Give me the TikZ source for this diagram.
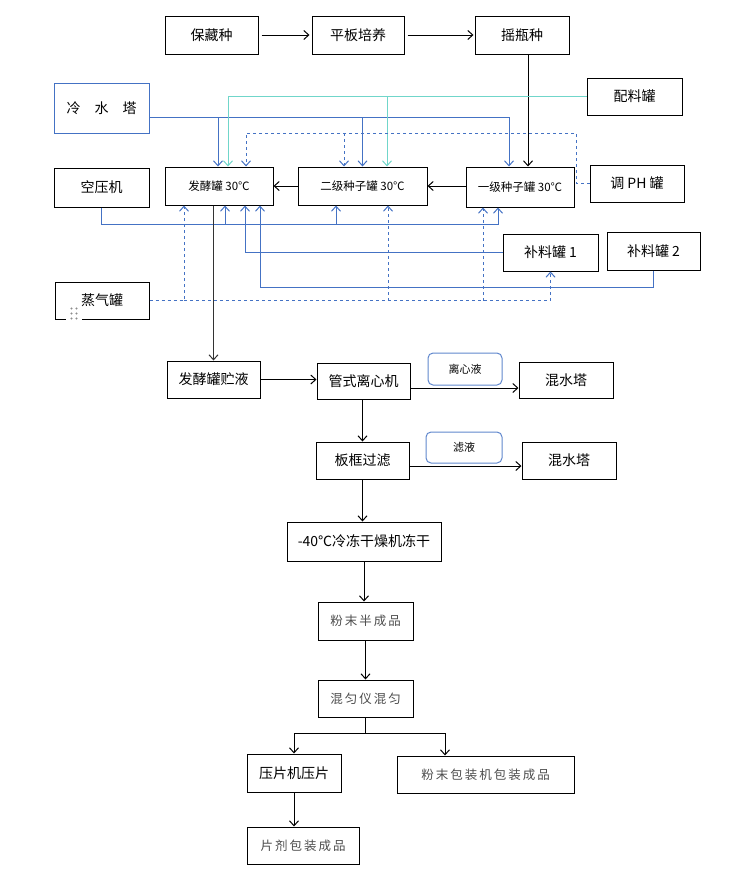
\documentclass[tikz,border=0pt]{standalone}
\usepackage{fontspec}
\setmainfont{Noto Sans CJK SC}
\newfontfamily\widecjk[LetterSpace=16]{Noto Sans CJK SC}
\usetikzlibrary{arrows.meta}
\definecolor{wblue}{RGB}{68,114,196}
\definecolor{wteal}{RGB}{112,214,202}

\begin{document}
\begin{tikzpicture}[x=1pt,y=-1pt,
  >={Straight Barb[length=5pt,width=9pt]},
  wh/.style 2 args={minimum width=#1,minimum height=#2},
  box/.style={draw,line width=1pt,inner sep=0pt,font=\fontsize{14}{16}\selectfont},
  sbox/.style={box,font=\fontsize{11.5}{14}\selectfont},
  gbox/.style={box,text=black!70,font=\widecjk\fontsize{12.5}{14}\selectfont},
  tag/.style={draw=wblue!85,rounded corners=5pt,line width=1pt,inner sep=0pt,font=\fontsize{11}{13}\selectfont},
  flow/.style={line width=1pt,->},
  pipe/.style={wblue,line width=1pt,->},
  feed/.style={wteal,line width=1pt,->},
  gas/.style={wblue,line width=1pt,dashed,->}]
\useasboundingbox (0,0) rectangle (752,889);

\node[box,wh={93}{38}] (bc) at (211.5,35) {保藏种};
\node[box,wh={92}{38}] (pb) at (358,35) {平板培养};
\node[box,wh={94}{38}] (yp) at (522,35) {摇瓶种};
\node[box,draw=wblue,wh={95}{50}] (lsta) at (101.5,108) {冷\quad 水\quad 塔};
\node[box,wh={95}{37}] (plg) at (634.5,96.5) {配料罐};
\node[box,wh={95}{39}] (kyj) at (101.5,187.5) {空压机};
\node[sbox,wh={108}{38}] (fj) at (219,186) {发酵罐 30℃};
\node[sbox,wh={129}{38}] (ej) at (362.5,186) {二级种子罐 30℃};
\node[sbox,wh={108}{40}] (yj) at (520,187) {一级种子罐 30℃};
\node[box,wh={94}{37}] (ph) at (637,183.5) {调 PH 罐};
\node[box,wh={95}{37}] (bl1) at (550.5,252.5) {补料罐 1};
\node[box,wh={93}{38}] (bl2) at (653.5,251) {补料罐 2};
\node[box,wh={94}{37}] (zq) at (102,300.5) {蒸气罐};
\fill[white] (66,317) rectangle (82,321);
\foreach \i in {71.5,76.5} \foreach \j in {308.5,313.5,318.5}
  \fill[black!45] (\i,\j) circle (1.2);

\node[box,wh={93}{37}] (fjy) at (213.5,379.5) {发酵罐贮液};
\node[box,wh={93}{36}] (gs) at (363.5,381) {管式离心机};
\node[tag,wh={74}{32}] (lxy) at (465,369) {离心液};
\node[box,wh={94}{36}] (hs1) at (566,380) {混水塔};
\node[box,wh={93}{37}] (bk) at (362.5,460.5) {板框过滤};
\node[tag,wh={76}{31}] (ly) at (464,447.5) {滤液};
\node[box,wh={94}{37}] (hs2) at (569,460.5) {混水塔};
\node[box,wh={154}{39}] (ld) at (364,541.5) {-40℃冷冻干燥机冻干};
\node[gbox,wh={95}{38}] (fm) at (365.5,621) {粉末半成品};
\node[gbox,wh={95}{37}] (hy) at (365.5,698.5) {混匀仪混匀};
\node[box,wh={94}{38}] (ypj) at (294,773) {压片机压片};
\node[gbox,wh={177}{37}] (fmbz) at (485.5,774.5) {粉末包装机包装成品};
\node[gbox,wh={112}{37}] (pj) at (303,845.5) {片剂包装成品};

\draw[flow,shorten <=3pt,shorten >=2pt] (bc) -- (pb);
\draw[flow,shorten <=3pt,shorten >=1pt] (pb) -- (yp);
\draw[flow] ([xshift=6pt]yp.south) -- ([xshift=8pt]yj.north);
\draw[flow] (ej) -- (fj);
\draw[flow] (yj.west |- ej.east) -- (ej.east);

\coordinate (cw) at ([yshift=-9pt]lsta.east);
\draw[pipe] (cw) -| ([xshift=-11pt]yj.north);
\draw[pipe] ([xshift=-1pt]fj.north |- cw) -- ([xshift=-1pt]fj.north);
\draw[pipe] (ej.north |- cw) -- (ej.north);

\draw[feed] (plg.west) -| ([xshift=9pt]fj.north);
\draw[feed] ([xshift=24.5pt]ej.north |- plg.west) -- ([xshift=24.5pt]ej.north);

\coordinate (phtop) at (576,133);
\draw[gas] (ph.west) -| (phtop) -| ([xshift=27pt]fj.north);
\draw[gas] ([xshift=-18.5pt]ej.north |- phtop) -- ([xshift=-18.5pt]ej.north);

\coordinate (air) at ([yshift=-17pt]kyj.south);
\draw[pipe] (kyj.south) -- (air) -| ([xshift=-22pt]yj.south);
\draw[pipe] ([xshift=6pt]fj.south |- air) -- ([xshift=6pt]fj.south);
\draw[pipe] ([xshift=-26.5pt]ej.south |- air) -- ([xshift=-26.5pt]ej.south);

\draw[pipe] (bl1.west) -| ([xshift=26pt]fj.south);
\draw[pipe] (bl2.south) -- ++(0,17) -| ([xshift=41pt]fj.south);

\draw[gas] (zq.east) -| ([xshift=-35pt]fj.south);
\draw[gas] ([xshift=-35pt]fj.south |- zq.east) -| (bl1.south);
\draw[gas] ([xshift=25.5pt]ej.south |- zq.east) -- ([xshift=25.5pt]ej.south);
\draw[gas] ([xshift=-37pt]yj.south |- zq.east) -- ([xshift=-37pt]yj.south);

\draw[flow,black!80] (fjy.north |- fj.south) -- (fjy.north);
\draw[flow] (fjy.east) -- (fjy.east -| gs.west);
\draw[flow] ([yshift=-7pt]gs.east) -- ([yshift=-7pt]gs.east -| hs1.west);
\draw[flow] (bk.north |- gs.south) -- (bk.north);
\draw[flow] ([yshift=-5.5pt]bk.east) -- ([yshift=-5.5pt]bk.east -| hs2.west);
\draw[flow] (bk.south) -- (bk.south |- ld.north);
\draw[flow] (ld.south) -- (ld.south |- fm.north);
\draw[flow] (fm) -- (hy);
\draw[line width=1pt] (hy.south) -- ++(0,16) coordinate (sp);
\draw[flow] (sp) -| (ypj.north);
\draw[flow] (sp) -| ([xshift=-40.5pt]fmbz.north);
\draw[flow] (ypj.south) -- (ypj.south |- pj.north);
\end{tikzpicture}
\end{document}
